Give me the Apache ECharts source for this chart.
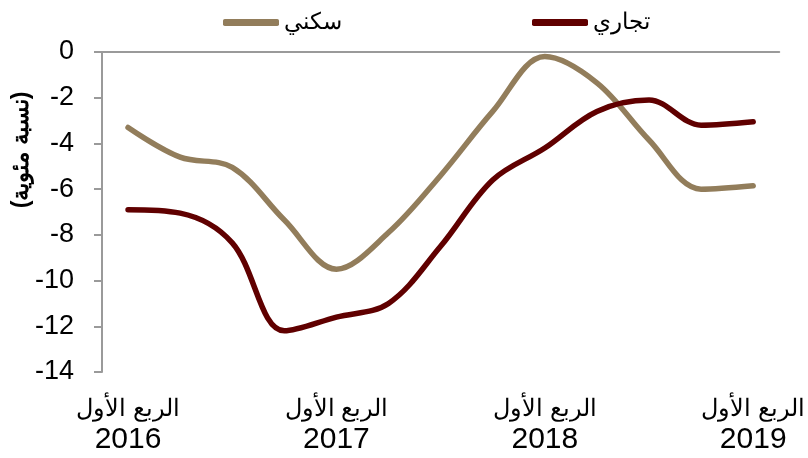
<!DOCTYPE html>
<html>
<head>
<meta charset="utf-8">
<script src="https://cdn.jsdelivr.net/npm/echarts@6/dist/echarts.min.js"></script>
<style>
  html, body { margin: 0; padding: 0; background: #fff; }
  #chart { width: 808px; height: 458px; }
</style>
</head>
<body>
<div id="chart"></div>
<script>
// quarters Q1 2016 .. Q1 2019
const quarterNames = ['الربع الأول', 'الربع الثاني', 'الربع الثالث', 'الربع الرابع']
const years = ['2016', '2016', '2016', '2016', '2017', '2017', '2017', '2017', '2018', '2018', '2018', '2018', '2019']
const quarters = years.map((y, i) => quarterNames[i % 4] + '|' + y)
const residential = [-3.3, -4.6, -5.05, -7.35, -9.5, -7.9, -5.4, -2.6, -0.2, -1.35, -3.85, -6.0, -5.85]
const commercial = [-6.9, -7.05, -8.35, -12.2, -11.6, -11.0, -8.5, -5.6, -4.2, -2.6, -2.1, -3.2, -3.05]
const yTicks = [0, -2, -4, -6, -8, -10, -12, -14]

const font = '"Liberation Sans", Arial, sans-serif'
const axisGray = '#9a9a9a'

const chart = echarts.init(document.getElementById('chart'))

chart.setOption({
  animation: false,
  textStyle: { fontFamily: font },
  legend: {
    left: 218,
    top: 6,
    itemGap: 190,
    itemWidth: 56,
    itemHeight: 7,
    icon: 'roundRect',
    textStyle: { fontSize: 23, color: '#000', fontFamily: font },
    data: ['سكني', 'تجاري']
  },
  grid: { left: 102, right: 28, top: 52, bottom: 86 },
  xAxis: [{
    // axis line at zero (top), ticks pointing down
    type: 'category',
    position: 'top',
    data: quarters,
    boundaryGap: true,
    axisLine: { lineStyle: { color: axisGray, width: 2 } },
    axisTick: { inside: true, length: 8, interval: 1, lineStyle: { color: axisGray, width: 2 } },
    axisLabel: { show: false }
  }, {
    // labels only, below the plot
    type: 'category',
    position: 'bottom',
    data: quarters,
    boundaryGap: true,
    axisLine: { show: false },
    axisTick: { show: false },
    axisLabel: {
      interval: 3,
      margin: 22,
      color: '#000',
      formatter: v => {
        const p = v.split('|')
        return '{q|' + p[0] + '}\n{y|' + p[1] + '}'
      },
      rich: {
        q: { fontSize: 24, lineHeight: 30, fontFamily: font, color: '#000' },
        y: { fontSize: 30, lineHeight: 32, fontFamily: font, color: '#000' }
      }
    }
  }],
  yAxis: {
    type: 'value',
    min: yTicks[yTicks.length - 1],
    max: yTicks[0],
    interval: 2,
    axisLine: { show: true, lineStyle: { color: axisGray, width: 2 } },
    axisTick: { show: true, length: 8, lineStyle: { color: axisGray, width: 2 } },
    splitLine: { show: false },
    axisLabel: { fontSize: 27, color: '#000', margin: 28, fontFamily: font }
  },
  graphic: [{
    type: 'text',
    x: 22,
    y: 150,
    rotation: Math.PI / 2,
    style: {
      text: '(نسبة مئوية)',
      font: 'bold 23px ' + font,
      fill: '#000',
      align: 'center',
      verticalAlign: 'middle'
    }
  }],
  series: [{
    name: 'سكني',
    type: 'line',
    xAxisIndex: 0,
    data: residential,
    smooth: 0.35,
    symbol: 'none',
    color: '#927D5B',
    lineStyle: { width: 5.5, color: '#927D5B', cap: 'round' }
  }, {
    name: 'تجاري',
    type: 'line',
    xAxisIndex: 0,
    data: commercial,
    smooth: 0.35,
    symbol: 'none',
    color: '#600000',
    lineStyle: { width: 5.5, color: '#600000', cap: 'round' }
  }]
})
</script>
</body>
</html>
